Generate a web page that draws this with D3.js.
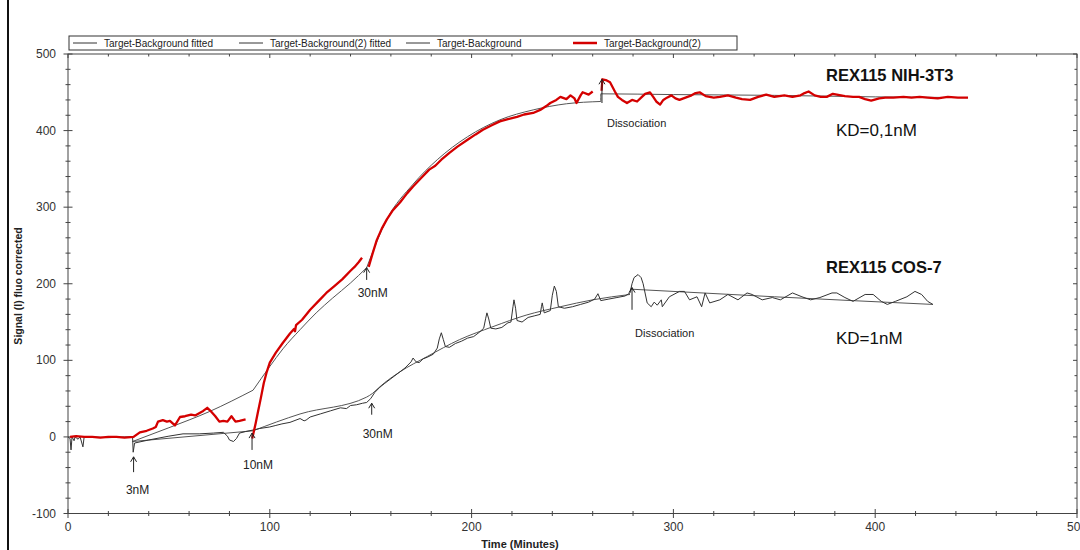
<!DOCTYPE html>
<meta charset="utf-8">
<style>
body { margin: 0; background: #fff; }
svg text { font-family: "Liberation Sans", Arial, sans-serif; }
</style>
<script src="https://cdn.jsdelivr.net/npm/d3@7/dist/d3.min.js"></script>
<body>
<script>
// ---- data ----
var xTicks = [0, 100, 200, 300, 400, 500];
var yTicks = [-100, 0, 100, 200, 300, 400, 500];
var legendNames = ["Target-Background fitted", "Target-Background(2) fitted", "Target-Background", "Target-Background(2)"];

// Target-Background(2) : REX115 NIH-3T3 (red)
var nihData = [
 [[1,0],[4,1],[8,0],[12,0],[16,-1],[20,0],[24,0],[28,-1],[32.5,0],[33,1],[35.6,6],[39,8],[42,11],[43.5,13],[44.6,20],[47,22],[49,20],[50.5,21],[53,15],[55.5,26],[58,27],[61,29],[63,28],[65,31],[67,34],[69,38],[71,33],[73,27],[75,20],[77,21],[79,20],[81,27],[83,20],[85,21],[88,23]],
 [[91.3,-2],[92,6],[93,18],[94,31],[95.5,50],[97,70],[98.5,85],[100,97],[103,110],[106.5,123],[110,135],[112,141],[112.5,138],[113,146],[116,153],[120,166],[124,177],[128,188],[132,197],[136,206],[140,217],[142,222],[144,228],[145.7,234]],
 [[149,222],[151,240],[153,257],[155.5,272],[158,284],[161,296],[164.5,306],[168,318],[171,327],[175,338],[179,349],[182,354],[185,362],[189,371],[193,379],[198,388],[202,395],[205.6,401],[210,407],[214,412],[218,415],[222.5,418],[226,421],[230.5,423],[234,427],[237,432],[239,436],[242,440],[244,444],[247,441],[249,446],[251,442],[252,436],[254,446],[255,450],[258,447],[260,451]],
 [[264.4,452],[264.8,467],[266.5,466],[268.6,463],[271,451],[272.5,444],[274.5,440],[277,436],[279.5,440],[282,438],[284.4,444],[286,448],[288.4,450],[290,444],[291.5,438],[293.4,434],[295,440],[296.8,443],[299,446],[301,442],[303,440],[306,443],[309,446],[311,449],[313,450],[316,445],[320,443],[323,444],[327,446],[331,443],[334,441],[338,440],[342,444],[346,447],[350,444],[355,446],[359,444],[363,446],[365,449],[367,451],[370,446],[373,444],[376,444],[379,448],[381,447],[385,445],[389,444],[392,444],[395,441],[398,439],[402,442],[405,443],[409,443],[414,444],[418,443],[422,444],[426,443],[431,442],[436,444],[441,443],[446,443]]
];

// Target-Background : REX115 COS-7 (black)
var cosData = [
 [[0,0],[1,-2],[1.5,-17],[2,0],[3,-5],[3.5,0],[5,-3],[6,0],[7.4,-13],[8,0],[12,0],[20,-1],[28,0],[32,0],[32.3,-20],[33,-8],[40,-4],[50,1],[57,4],[65,4],[72,5],[77,6],[79,1],[80,-4],[82,-6],[83.5,-2],[85,5],[88,7],[91.7,9],[95,11],[100,13],[103,15],[106,17],[110,19],[115,24],[117,21],[118,22],[120,26],[125,30],[130,34],[135,38],[138,37],[140,41],[143,42],[146,44],[148,45],[150,50],[152,58],[154.6,65],[157,70],[160,76],[164.5,85],[167,90],[170,98],[171,103],[172.5,98],[174,97],[176,102],[178,104],[181,108],[183,116],[184,128],[185,136],[186,127],[187,118],[189,117],[192,122],[195,125],[198,129],[201,131],[204,137],[206,142],[207,155],[207.6,162],[208.5,154],[209.5,142],[212,141],[215,143],[218,149],[219.5,150],[220.5,170],[221,179],[221.8,168],[222.5,152],[225,150],[228,156],[231,158],[234,160],[234.6,170],[235,175],[235.5,168],[236,162],[239,165],[240,185],[241,197],[242,190],[243,170],[246,168],[250,170],[254,173],[258,176],[261,180],[262.6,187],[264,178],[268,180],[272,182],[276,184],[278.5,188],[279.5,200],[280.5,208],[282.5,212],[284,208],[285,200],[287,175],[289,170],[290.5,176],[292,172],[294,179],[294.5,170],[298,183],[303,190],[305.5,190],[308,179],[311.7,183],[314,170],[315.7,188],[318,175],[323,179],[327,186],[332,179],[336.5,188],[339,186],[344,179],[349,182],[353,179],[359,188],[363.7,183],[368,179],[372.6,182],[378.6,188],[381,188],[385,182],[389,177],[395,186],[399,186],[403,177],[406,173],[410,177],[415.7,183],[419.7,190],[423,186],[426,177],[428.6,173]]
];

// fitted curves
var nihFit = [
 [[32,-6],[50,12],[70,33],[91.7,61]],
 [[91.7,61],[100,92],[106.5,115],[115,140],[123,162],[131,181],[140,201],[148,221]],
 [[148,221],[158,284],[171,330],[183,362],[198,392],[214,414],[230.5,427],[247,435],[264,438]],
 [[264,438],[264,448],[300,447],[350,446],[400,444],[446,443]]
];
var cosFit = [
 [[32,-6],[91.7,8]],
 [[91.7,8],[115,30],[148,52],[151,57]],
 [[151,57],[157,71],[164.5,85],[178,105],[194,127],[210.6,144],[227,159],[244,170],[260,179],[278.5,186]],
 [[278.5,193],[350,183],[428.6,173]]
];

// injection / dissociation marks: time, arrow from..to (signal), label
var markTimes = [32.5, 91.2, 148, 150.5, 264.6, 279.5];
var markFrom = [-46, -17, 205, 29, 436, 166];
var markTo = [-26, 5, 221, 44, 467, 195];
var markLabels = ["3nM", "10nM", "30nM", "30nM", "Dissociation", "Dissociation"];

// ---- drawing ----
var width = 1080, height = 550;
var svg = d3.select("body").append("svg")
 .attr("width", width)
 .attr("height", height);

var x = d3.scaleLinear().domain([0, 500]).range([68, 1077]);
var y = d3.scaleLinear().domain([-100, 500]).range([513.5, 54]);

// left border of the screenshot
svg.append("line").attr("x1", 8).attr("x2", 8).attr("y1", 0).attr("y2", height)
 .attr("stroke", "#111").attr("stroke-width", 2);

// frame + ticks
var minorX = d3.range(0, 501, 20), minorY = d3.range(-100, 501, 20);
var frame = svg.append("g").attr("stroke", "#444").attr("stroke-width", 1);
frame.append("rect").attr("x", x(0)).attr("y", y(500))
 .attr("width", x(500) - x(0)).attr("height", y(-100) - y(500))
 .attr("fill", "none");

minorX.forEach(function(t) {
 var big = xTicks.indexOf(t) >= 0;
 var s = big ? 4.5 : 2.5;
 frame.append("line").attr("x1", x(t)).attr("x2", x(t))
  .attr("y1", y(-100) - s).attr("y2", y(-100) + s);
 frame.append("line").attr("x1", x(t)).attr("x2", x(t))
  .attr("y1", y(500)).attr("y2", y(500) + (big ? 4 : 2.5));
});
minorY.forEach(function(v) {
 var big = yTicks.indexOf(v) >= 0;
 var s = big ? 4.5 : 2.5;
 frame.append("line").attr("y1", y(v)).attr("y2", y(v))
  .attr("x1", x(0) - s).attr("x2", x(0) + s);
 frame.append("line").attr("y1", y(v)).attr("y2", y(v))
  .attr("x1", x(500)).attr("x2", x(500) - (big ? 4 : 2.5));
});

svg.selectAll("text.xt").data(xTicks).enter().append("text")
 .attr("class", "xt")
 .attr("x", function(d) { return x(d); })
 .attr("y", y(-100) + 17)
 .attr("text-anchor", "middle")
 .attr("font-size", "12px")
 .attr("fill", "#333")
 .text(function(d) { return d; });

svg.selectAll("text.yt").data(yTicks).enter().append("text")
 .attr("class", "yt")
 .attr("x", x(0) - 12)
 .attr("y", function(d) { return y(d) + 4; })
 .attr("text-anchor", "end")
 .attr("font-size", "12px")
 .attr("fill", "#333")
 .text(function(d) { return d; });

svg.append("text")
 .attr("x", 520).attr("y", 548)
 .attr("text-anchor", "middle")
 .attr("font-size", "11px").attr("font-weight", "bold").attr("fill", "#222")
 .text("Time (Minutes)");

svg.append("text")
 .attr("transform", "translate(22," + 286 + ") rotate(-90)")
 .attr("text-anchor", "middle")
 .attr("font-size", "10.5px").attr("font-weight", "bold").attr("fill", "#222")
 .text("Signal (I) fluo corrected");

// curves
var line = d3.line()
 .x(function(d) { return x(d[0]); })
 .y(function(d) { return y(d[1]); });
var smooth = d3.line()
 .x(function(d) { return x(d[0]); })
 .y(function(d) { return y(d[1]); })
 .curve(d3.curveMonotoneX);

svg.selectAll("path.cosfit").data(cosFit).enter().append("path")
 .attr("class", "cosfit").attr("d", smooth)
 .attr("fill", "none").attr("stroke", "#555").attr("stroke-width", 1);
svg.selectAll("path.nihfit").data(nihFit).enter().append("path")
 .attr("class", "nihfit").attr("d", smooth)
 .attr("fill", "none").attr("stroke", "#555").attr("stroke-width", 1);
svg.selectAll("path.cos").data(cosData).enter().append("path")
 .attr("class", "cos").attr("d", line)
 .attr("fill", "none").attr("stroke", "#333").attr("stroke-width", 1)
 .attr("stroke-linejoin", "round");
svg.selectAll("path.nih").data(nihData).enter().append("path")
 .attr("class", "nih").attr("d", line)
 .attr("fill", "none").attr("stroke", "#d40000").attr("stroke-width", 2.3)
 .attr("stroke-linejoin", "round");

// arrows + labels (label offsets below the arrow tail, in px)
var labelDx = [4, 6, 6, 6, 5, 3];
var labelDy = [22, 19, 17, 23, 24, 27];
markTimes.forEach(function(t, i) {
 var ax = x(t), y0 = y(markFrom[i]), y1 = y(markTo[i]);
 var diss = markLabels[i] == "Dissociation";
 var g = svg.append("g").attr("stroke", "#222").attr("stroke-width", 1).attr("fill", "none");
 g.append("line").attr("x1", ax).attr("x2", ax).attr("y1", y0).attr("y2", y1);
 g.append("path").attr("d", "M" + (ax - 3) + "," + (y1 + 5) + "L" + ax + "," + y1 + "L" + (ax + 3) + "," + (y1 + 5));
 svg.append("text")
  .attr("x", ax + labelDx[i])
  .attr("y", y0 + labelDy[i])
  .attr("text-anchor", diss ? "start" : "middle")
  .attr("font-family", "'Open Sans', sans-serif")
  .attr("font-size", diss ? "11px" : "12px")
  .attr("fill", "#222")
  .text(markLabels[i]);
});

// titles and KD
var note = function(tx, ty, str, size, weight) {
 svg.append("text").attr("x", tx).attr("y", ty)
  .attr("font-family", "'Open Sans', sans-serif")
  .attr("font-size", size).attr("font-weight", weight).attr("fill", "#111")
  .text(str);
};
note(826, 81, "REX115 NIH-3T3", "16.5px", "bold");
note(836, 136, "KD=0,1nM", "17px", "normal");
note(826, 273, "REX115 COS-7", "16.5px", "bold");
note(836, 344, "KD=1nM", "17px", "normal");

// legend
var legX = [73, 239, 406, 573];
var leg = svg.append("g");
leg.append("rect").attr("x", 69).attr("y", 36).attr("width", 668).attr("height", 14)
 .attr("fill", "#fff").attr("stroke", "#333").attr("stroke-width", 1);
legendNames.forEach(function(name, i) {
 var red = i == 3;
 leg.append("line").attr("x1", legX[i]).attr("x2", legX[i] + 24)
  .attr("y1", 43).attr("y2", 43)
  .attr("stroke", red ? "#d40000" : "#333").attr("stroke-width", red ? 2.5 : 1);
 leg.append("text").attr("x", legX[i] + 31).attr("y", 46.5)
  .attr("font-size", "10px").attr("fill", "#222")
  .text(name);
});
</script>
</body>
